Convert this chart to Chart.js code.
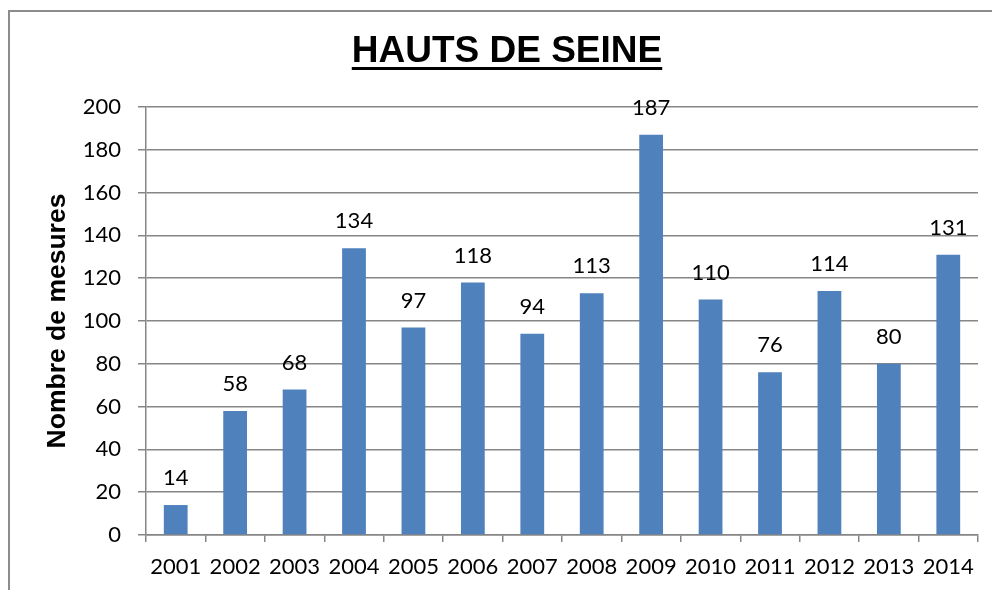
<!DOCTYPE html>
<html>
<head>
<meta charset="utf-8">
<script src="https://cdn.jsdelivr.net/npm/chart.js@4.4.1/dist/chart.umd.min.js"></script>
<style>
  body { margin: 0; background: #fff; }
  canvas { display: block; }
</style>
</head>
<body>
<canvas id="graphique" width="992" height="590"></canvas>
<script>
const annees = ['2001', '2002', '2003', '2004', '2005', '2006', '2007', '2008', '2009', '2010', '2011', '2012', '2013', '2014'];
const mesures = [14, 58, 68, 134, 97, 118, 94, 113, 187, 110, 76, 114, 80, 131];
const titre = 'HAUTS DE SEINE';
const titreAxeY = 'Nombre de mesures';

const policeChiffres = 'Lato';
const bleu = '#4F81BD';
const gris = '#868686';

// cadre gris (haut et gauche) + titre souligne
const cadreEtTitre = {
  id: 'cadreEtTitre',
  beforeDraw(chart) {
    const ctx = chart.ctx;
    ctx.save();
    ctx.strokeStyle = '#8c8c8c';
    ctx.lineWidth = 2;
    ctx.beginPath();
    ctx.moveTo(9, 590);
    ctx.lineTo(9, 11);
    ctx.lineTo(992, 11);
    ctx.stroke();
    ctx.restore();
  },
  afterDraw(chart) {
    const ctx = chart.ctx;
    ctx.save();
    ctx.font = 'bold 37px "Liberation Sans", Arial, sans-serif';
    ctx.fillStyle = '#000';
    ctx.textAlign = 'center';
    ctx.textBaseline = 'alphabetic';
    const cx = 507;
    ctx.fillText(titre, cx, 62);
    const w = ctx.measureText(titre).width;
    ctx.fillRect(cx - w / 2, 67, w, 3);
    ctx.restore();
  }
};

// etiquettes de valeurs au-dessus des barres
const etiquettes = {
  id: 'etiquettes',
  afterDatasetsDraw(chart) {
    const ctx = chart.ctx;
    const meta = chart.getDatasetMeta(0);
    ctx.save();
    ctx.font = '22px ' + policeChiffres;
    ctx.fillStyle = '#000';
    ctx.textAlign = 'center';
    ctx.textBaseline = 'middle';
    meta.data.forEach((barre, i) => {
      ctx.fillText(String(mesures[i]), barre.x, barre.y - 27);
    });
    ctx.restore();
  }
};

const graphique = new Chart(document.querySelector('#graphique'), {
  type: 'bar',
  data: {
    labels: annees,
    datasets: [{
      label: 'Nombre de mesures',
      data: mesures,
      backgroundColor: bleu,
      borderWidth: 0,
      barPercentage: 0.4,
      categoryPercentage: 1
    }]
  },
  options: {
    responsive: false,
    animation: false,
    devicePixelRatio: 1,
    layout: { padding: { top: 107, right: 14, bottom: 0, left: 0 } },
    plugins: {
      legend: { display: false },
      title: { display: false },
      tooltip: { enabled: false }
    },
    scales: {
      x: {
        afterFit(scale) { scale.height = 55; },
        grid: {
          offset: true,
          drawOnChartArea: false,
          drawTicks: true,
          tickLength: 7,
          color: gris,
          lineWidth: 1.5
        },
        border: { display: true, color: gris, width: 1.5 },
        ticks: {
          color: '#000',
          padding: 12,
          maxRotation: 0,
          autoSkip: false,
          font: { family: policeChiffres, size: 22 }
        }
      },
      y: {
        min: 0,
        max: 200,
        afterFit(scale) { scale.width = 146; },
        grid: {
          color: gris,
          lineWidth: 1.5,
          drawTicks: true,
          tickLength: 8
        },
        border: { display: true, color: gris, width: 1.5 },
        ticks: {
          stepSize: 20,
          color: '#000',
          padding: 17,
          font: { family: policeChiffres, size: 22 }
        },
        title: {
          display: true,
          text: titreAxeY,
          color: '#000',
          padding: { top: 42, bottom: 0 },
          font: { family: '"Liberation Sans", Arial, sans-serif', size: 26.5, weight: 'bold' }
        }
      }
    }
  },
  plugins: [cadreEtTitre, etiquettes]
});
</script>
</body>
</html>
